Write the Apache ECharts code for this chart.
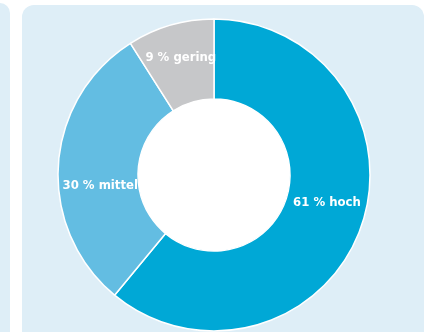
<!DOCTYPE html>
<html><head><meta charset="utf-8">
<script src="https://cdn.jsdelivr.net/npm/echarts@6/dist/echarts.min.js"></script>
<style>html,body{margin:0;padding:0;background:#fff}#c{width:426px;height:332px}</style>
</head><body><div id="c"></div>
<script>
const categories = ['hoch', 'mittel', 'gering'];
const values = [61, 30, 9];
const colors = ['#00a8d6', '#63bde2', '#c6c7c9'];
const labelOffsets = [[1, -13], [5, 18], [0, -3]];

const chart = echarts.init(document.getElementById('c'), null, {renderer: 'canvas'});
chart.setOption({
  animation: false,
  graphic: [
    {type: 'rect', shape: {x: -20, y: 3, width: 30, height: 360, r: 10}, style: {fill: '#deeef7'}, z: -10},
    {type: 'rect', shape: {x: 22, y: 5, width: 402, height: 360, r: 12}, style: {fill: '#deeef7'}, z: -10},
    {type: 'circle', shape: {cx: 214, cy: 175, r: 77}, style: {fill: '#ffffff'}, z: -5}
  ],
  series: [{
    type: 'pie',
    center: [214, 175],
    radius: [76, 156],
    startAngle: 90,
    clockwise: true,
    silent: true,
    itemStyle: {borderColor: '#ffffff', borderWidth: 1.5},
    label: {
      show: true,
      position: 'inside',
      color: '#ffffff',
      fontFamily: "'DejaVu Sans Condensed'",
      fontWeight: 'bold',
      fontSize: 13,
      formatter: p => p.value + ' % ' + p.name
    },
    labelLine: {show: false},
    data: categories.map((c, i) => ({
      name: c,
      value: values[i],
      itemStyle: {color: colors[i]},
      label: {offset: labelOffsets[i]}
    }))
  }]
});
</script></body></html>
